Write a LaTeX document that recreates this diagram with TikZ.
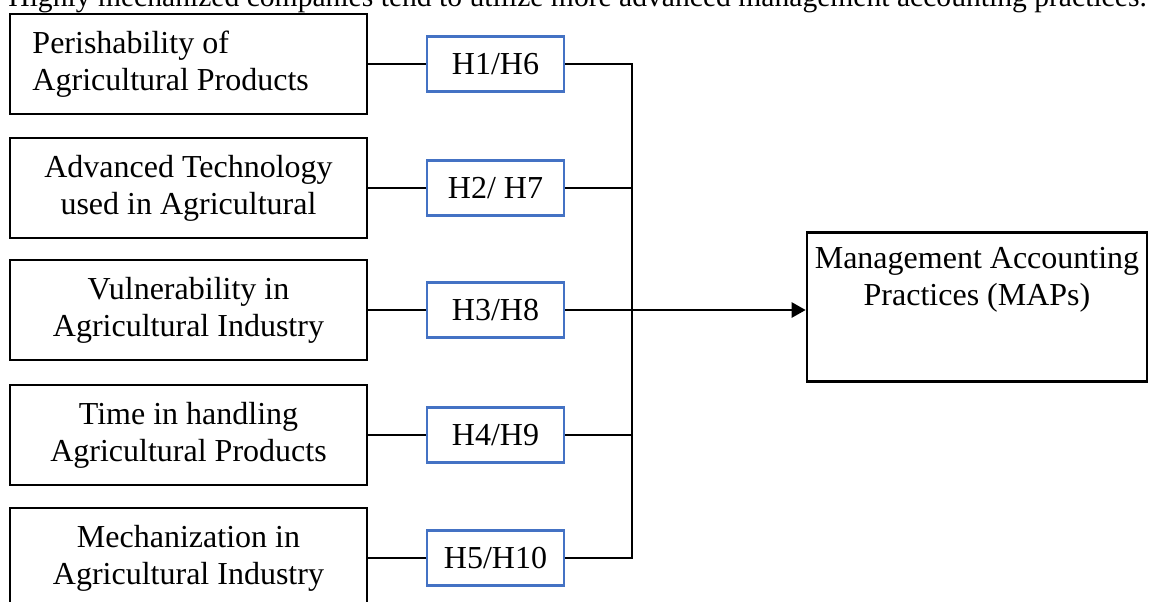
\documentclass[tikz,border=0pt]{standalone}
\usepackage{fontspec}
\setmainfont{Liberation Serif}
\usepackage{xcolor}
\usetikzlibrary{positioning,arrows.meta}

\definecolor{hypblue}{RGB}{68,114,196}

\tikzset{
    factor/.style={draw, line width=1.3pt, minimum width=178.5pt, minimum height=50pt,
        inner sep=0pt, align=center, font=\fontsize{16}{18.5}\selectfont},
    hyp/.style={draw=hypblue, line width=1.1pt, minimum width=68.5pt, minimum height=27.5pt,
        inner sep=0pt, font=\fontsize{16}{18.5}\selectfont},
    link/.style={line width=1.2pt},
}

\begin{document}
\begin{tikzpicture}[x=0.5pt, y=-0.5pt]
    \useasboundingbox (0,0) rectangle (1150,601);
    \clip (0,0) rectangle (1150,601);

    \node[anchor=base west, inner sep=0pt, font=\fontsize{14.8}{18}\selectfont] (intro) at (8,6)
        {Highly mechanized companies tend to utilize more advanced management accounting practices.};

    % factors
    \node[factor, align=flush left, text width=156pt] (perish) at (188.5,64) {Perishability of\\Agricultural Products};
    \node[factor] (tech) at (188.5,188) {Advanced Technology\\used in Agricultural};
    \node[factor] (vuln) at (188.5,310) {Vulnerability in\\Agricultural Industry};
    \node[factor] (time) at (188.5,435) {Time in handling\\Agricultural Products};
    \node[factor] (mech) at (188.5,558) {Mechanization in\\Agricultural Industry};

    % hypotheses
    \node[hyp] (h1) at (495.5,64) {H1/H6};
    \node[hyp] (h2) at (495.5,188) {H2/ H7};
    \node[hyp] (h3) at (495.5,310) {H3/H8};
    \node[hyp] (h4) at (495.5,435) {H4/H9};
    \node[hyp] (h5) at (495.5,558) {H5/H10};

    \node[factor, minimum width=170pt, minimum height=74.5pt, text depth=31pt] (maps) at (977,307)
        {Management Accounting\\Practices (MAPs)};

    \coordinate (bus) at (632,310);

    \draw[link] (perish) -- (h1);
    \draw[link] (tech) -- (h2);
    \draw[link] (vuln) -- (h3);
    \draw[link] (time) -- (h4);
    \draw[link] (mech) -- (h5);

    \draw[link] (h1.east) -| (bus) |- (h5.east);
    \draw[link] (h2.east) -- (h2.east -| bus);
    \draw[link] (h4.east) -- (h4.east -| bus);
    \draw[link, -{Triangle[length=7pt, width=7.5pt]}] (h3.east) -- (h3.east -| maps.west);
\end{tikzpicture}
\end{document}
